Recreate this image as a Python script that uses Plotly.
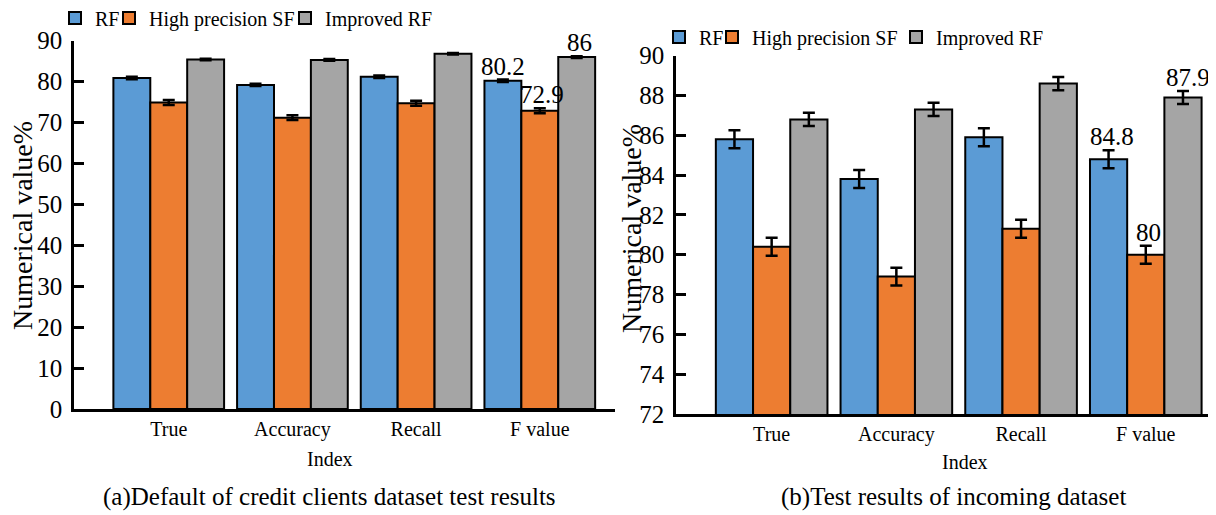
import plotly.graph_objects as go

# page body has an 8 px margin, so the figure is 8 px smaller than the window
W, H = 1208, 507
OFF = 8

categories = ["True", "Accuracy", "Recall", "F value"]
series_names = ["RF", "High precision SF", "Improved RF"]
colors = ["#5B9BD5", "#ED7D31", "#A5A5A5"]

# (a) Default of credit clients dataset
a_rf = [80.9, 79.2, 81.2, 80.2]
a_sf = [74.9, 71.2, 74.7, 72.9]
a_irf = [85.4, 85.3, 86.8, 86.0]
a_rf_err = [0.3, 0.3, 0.3, 0.3]
a_sf_err = [0.6, 0.6, 0.6, 0.6]
a_irf_err = [0.2, 0.2, 0.2, 0.2]

# (b) Incoming dataset
b_rf = [85.8, 83.8, 85.9, 84.8]
b_sf = [80.4, 78.9, 81.3, 80.0]
b_irf = [86.8, 87.3, 88.6, 87.9]
b_rf_err = [0.45, 0.45, 0.45, 0.45]
b_sf_err = [0.45, 0.45, 0.45, 0.45]
b_irf_err = [0.33, 0.33, 0.33, 0.33]

a_yticks = [0, 10, 20, 30, 40, 50, 60, 70, 80, 90]
b_yticks = [72, 74, 76, 78, 80, 82, 84, 86, 88, 90]

FONT = "Liberation Serif"

fig = go.Figure()

def px_x(p):
    return (p - OFF) / W

def px_y(p):
    return 1 - (p - OFF) / H

panels = [
    (dict(rf=a_rf, sf=a_sf, irf=a_irf, e=[a_rf_err, a_sf_err, a_irf_err]), "x", "y", [1, 2, 3]),
    (dict(rf=b_rf, sf=b_sf, irf=b_irf, e=[b_rf_err, b_sf_err, b_irf_err]), "x2", "y2", [4, 5, 6]),
]

for data, xa, ya, legs in panels:
    vals = [data["rf"], data["sf"], data["irf"]]
    for i in range(3):
        lg = "legend" if legs[i] == 1 else f"legend{legs[i]}"
        fig.add_trace(go.Bar(
            x=categories, y=vals[i], name=series_names[i],
            marker=dict(color=colors[i], line=dict(color="black", width=2)),
            error_y=dict(type="data", array=data["e"][i], color="black", thickness=2.5, width=6),
            xaxis=xa, yaxis=ya, legend=lg, offsetgroup=str(i), showlegend=True,
        ))

# legends: one per item so spacing matches (x = left edge of square, y = text centre)
leg_pos = [
    (70, 18), (124, 18), (300, 18),
    (674, 37), (727, 37), (911, 37),
]
layout_legends = {}
for k, (lx, ly) in enumerate(leg_pos):
    key = "legend" if k == 0 else f"legend{k+1}"
    layout_legends[key] = dict(
        x=px_x(lx - 15), y=px_y(ly), xanchor="left", yanchor="middle",
        orientation="h", bgcolor="rgba(0,0,0,0)",
        font=dict(family=FONT, size=20, color="black"),
        itemwidth=30, tracegroupgap=0,
    )

axis_line = dict(showline=True, linecolor="black", linewidth=2.5, showgrid=False, zeroline=False)

fig.update_layout(
    width=W, height=H,
    margin=dict(l=0, r=0, t=0, b=0, autoexpand=False),
    paper_bgcolor="white", plot_bgcolor="white",
    showlegend=True,
    barmode="group", bargap=0.105, bargroupgap=0,
    font=dict(family=FONT, color="black"),
    xaxis=dict(domain=[px_x(74), px_x(615)], anchor="y", range=[-0.766, 3.608],
               ticks="", ticklabelstandoff=0, tickfont=dict(family=FONT, size=20, color="black"),
               **axis_line),
    yaxis=dict(domain=[px_y(409), px_y(40.7)], anchor="x", range=[0, 90],
               tickvals=a_yticks, ticks="inside", ticklen=10, tickwidth=2.5, tickcolor="black",
               ticklabelstandoff=4, tickfont=dict(family=FONT, size=25, color="black"),
               **axis_line),
    xaxis2=dict(domain=[px_x(676), px_x(1212)], anchor="y2", range=[-0.767, 3.531],
                ticks="", ticklabelstandoff=0, tickfont=dict(family=FONT, size=20, color="black"),
                **axis_line),
    yaxis2=dict(domain=[px_y(413.9), px_y(55.7)], anchor="x2", range=[72, 90],
                tickvals=b_yticks, ticks="inside", ticklen=10, tickwidth=2.5, tickcolor="black",
                ticklabelstandoff=4, tickfont=dict(family=FONT, size=25, color="black"),
                **axis_line),
    **layout_legends,
)

# value labels on F value group
lbl_font = dict(family=FONT, size=25, color="black")
labels = [
    ("x", "y", 3, a_rf[3], a_rf_err[3], -0.3, 0, f"{a_rf[3]:g}"),
    ("x", "y", 3, a_sf[3], a_sf_err[3], 0.0, 2, f"{a_sf[3]:g}"),
    ("x", "y", 3, a_irf[3], a_irf_err[3], 0.3, 3, f"{a_irf[3]:g}"),
    ("x2", "y2", 3, b_rf[3], b_rf_err[3], -0.3, 4, f"{b_rf[3]:g}"),
    ("x2", "y2", 3, b_sf[3], b_sf_err[3], 0.0, 3, f"{b_sf[3]:g}"),
    ("x2", "y2", 3, b_irf[3], b_irf_err[3], 0.3, 5, f"{b_irf[3]:g}"),
]
for xa, ya, xi, v, e, off, dx, txt in labels:
    fig.add_annotation(x=xi + off, y=v + e, xref=xa, yref=ya, text=txt, showarrow=False,
                       yanchor="bottom", xanchor="center", xshift=dx, yshift=-2, font=lbl_font)

# axis titles and captions
def ann(text, x, y, size, angle=0):
    fig.add_annotation(x=px_x(x), y=px_y(y), xref="paper", yref="paper", text=text,
                       showarrow=False, xanchor="center", yanchor="middle", textangle=angle,
                       font=dict(family=FONT, size=size, color="black"))

ann("Index", 330, 459, 20)
ann("Index", 965, 462, 20)
ann("(a)Default of credit clients dataset test results", 330, 497, 25)
ann("(b)Test results of incoming dataset", 953, 497, 25)
ann("Numerical value%", 22, 226, 28, -90)
ann("Numerical value%", 631, 229, 28, -90)

fig.write_html("out.html")
